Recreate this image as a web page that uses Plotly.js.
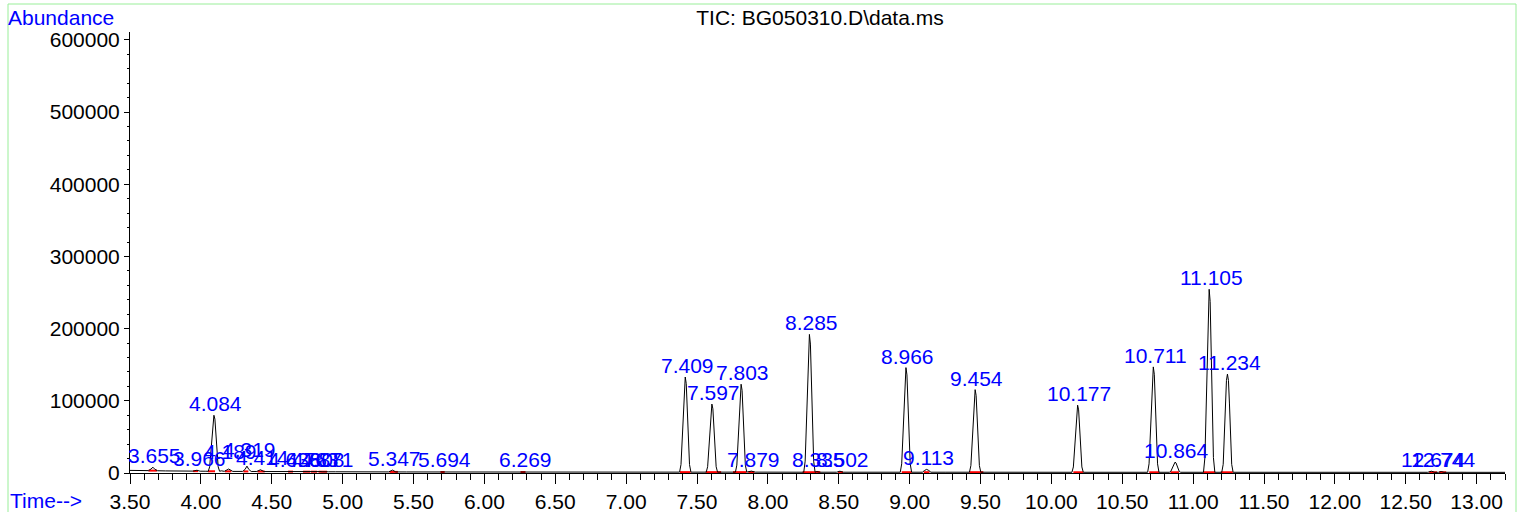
<!DOCTYPE html>
<html>
<head>
<meta charset="utf-8">
<script src="https://cdn.plot.ly/plotly-3.0.1.min.js"></script>
<style>html,body{margin:0;padding:0;background:#fff;}#chart{width:1528px;height:512px;}</style>
</head>
<body>
<div id="chart"></div>
<script>
// ---- chromatogram signal (time in minutes, abundance counts) ----
const traceTime = [
  3.50, 3.56, 3.60, 3.630, 3.648, 3.662, 3.676, 3.695, 3.75, 3.82, 3.90,
  3.945, 3.972, 3.995, 4.03,
  4.052, 4.062, 4.070, 4.078, 4.085, 4.092, 4.099, 4.106, 4.114, 4.122, 4.132,
  4.145, 4.165, 4.196, 4.225, 4.26,
  4.295, 4.312, 4.325, 4.338, 4.355,
  4.395, 4.420, 4.445, 4.52, 4.58,
  4.615, 4.640, 4.665, 4.71,
  4.745, 4.768, 4.790, 4.82, 4.840, 4.855, 4.878, 4.900, 4.95,
  5.05, 5.15, 5.25, 5.325, 5.352, 5.375, 5.45, 5.55, 5.65,
  5.680, 5.700, 5.720, 5.80, 5.95, 6.10,
  6.250, 6.275, 6.300, 6.40, 6.60, 6.80, 7.00, 7.20, 7.30,
  7.377, 7.387, 7.395, 7.403, 7.410, 7.417, 7.424, 7.431, 7.439, 7.447, 7.457,
  7.50,
  7.565, 7.575, 7.583, 7.591, 7.598, 7.605, 7.612, 7.619, 7.627, 7.635, 7.645,
  7.70,
  7.771, 7.781, 7.789, 7.797, 7.804, 7.811, 7.818, 7.825, 7.833, 7.841, 7.851,
  7.884, 7.910, 8.00, 8.10, 8.20,
  8.253, 8.263, 8.271, 8.279, 8.286, 8.293, 8.300, 8.307, 8.315, 8.323, 8.333,
  8.345, 8.365, 8.42, 8.485, 8.508, 8.530, 8.60, 8.70, 8.80, 8.88,
  8.934, 8.944, 8.952, 8.960, 8.967, 8.974, 8.981, 8.988, 8.996, 9.004, 9.014,
  9.05, 9.090, 9.105, 9.120, 9.135, 9.150, 9.25, 9.35,
  9.422, 9.432, 9.440, 9.448, 9.455, 9.462, 9.469, 9.476, 9.484, 9.492, 9.502,
  9.60, 9.80, 10.00, 10.10,
  10.145, 10.155, 10.163, 10.171, 10.178, 10.185, 10.192, 10.199, 10.207, 10.215, 10.225,
  10.35, 10.50, 10.62,
  10.679, 10.689, 10.697, 10.705, 10.712, 10.719, 10.726, 10.733, 10.741, 10.749, 10.759,
  10.80,
  10.832, 10.842, 10.850, 10.858, 10.865, 10.872, 10.879, 10.886, 10.894, 10.902, 10.912,
  10.98, 11.04,
  11.073, 11.083, 11.091, 11.099, 11.106, 11.113, 11.120, 11.127, 11.135, 11.143, 11.153,
  11.175,
  11.202, 11.212, 11.220, 11.228, 11.235, 11.242, 11.249, 11.256, 11.264, 11.272, 11.282,
  11.40, 11.60, 11.80, 12.00, 12.20, 12.40, 12.55,
  12.655, 12.680, 12.705, 12.730, 12.750, 12.770,
  12.90, 13.05, 13.20
];
const traceAbundance = [
  3600, 3400, 3350, 3300, 5500, 8000, 5000, 3100, 2900, 2800, 2700,
  2600, 3800, 2500, 2450,
  2400, 8600, 29600, 56700, 74600, 80000, 74600, 56700, 29600, 8600, 2400,
  3000, 2300, 5500, 2200, 2200,
  2200, 5000, 9500, 5000, 2100,
  2100, 4500, 2000, 2000, 1950,
  1900, 2800, 1900, 1850,
  1800, 2200, 1800, 1800, 2000, 1750, 2100, 1700, 1700,
  1600, 1600, 1500, 1500, 4000, 1500, 1450, 1400, 1400,
  1400, 2000, 1400, 1350, 1300, 1300,
  1300, 2000, 1300, 1300, 1250, 1250, 1200, 1200, 1200,
  1200, 11700, 47300, 93500, 123800, 133000, 123800, 93500, 47300, 11700, 1200,
  1200,
  1200, 8700, 34200, 67200, 88900, 95500, 88900, 67200, 34200, 8700, 1200,
  1200,
  1200, 10900, 43800, 86500, 114500, 123000, 114500, 86500, 43800, 10900, 1200,
  2600, 1200, 1150, 1100, 1100,
  1100, 16400, 67900, 134700, 178600, 192000, 178600, 134700, 67900, 16400, 1100,
  2000, 1100, 1100, 1100, 2500, 1100, 1100, 1100, 1100, 1100,
  1100, 12700, 51800, 102500, 135900, 146000, 135900, 102500, 51800, 12700, 1100,
  1100, 1100, 3500, 5000, 3500, 1100, 1100, 1100,
  1100, 10300, 41100, 81200, 107500, 115500, 107500, 81200, 41100, 10300, 1100,
  1050, 1050, 1000, 1000,
  1000, 8400, 33600, 66100, 87500, 94000, 87500, 66100, 33600, 8400, 1000,
  1000, 1000, 1000,
  1000, 12700, 52100, 103200, 136800, 147000, 136800, 103200, 52100, 12700, 1000,
  1000,
  1000, 2100, 5900, 10800, 14000, 15000, 14000, 10800, 5900, 2100, 1000,
  1000, 1000,
  1000, 21400, 90100, 179200, 237700, 254500, 237700, 179200, 90100, 21400, 1000,
  1000,
  1000, 12000, 49000, 96900, 128400, 137000, 128400, 96900, 49000, 12000, 1000,
  1000, 1000, 1000, 1000, 950, 950, 950,
  950, 2500, 950, 950, 2000, 950,
  900, 900, 900
];

// ---- integrated peaks: retention-time label, apex abundance, integration start/end ----
const peakLabels = ["3.655","3.966","4.084","4.189","4.319","4.414","4.636","4.763","4.808","4.871",
  "5.347","5.694","6.269","7.409","7.597","7.803","7.879","8.285","8.335","8.502",
  "8.966","9.113","9.454","10.177","10.711","10.864","11.105","11.234","12.674","12.744"];
const peakTimes = [3.655,3.966,4.084,4.189,4.319,4.414,4.636,4.763,4.808,4.871,
  5.347,5.694,6.269,7.409,7.597,7.803,7.879,8.285,8.335,8.502,
  8.966,9.113,9.454,10.177,10.711,10.864,11.105,11.234,12.674,12.744];
const peakApex = [8000,4200,80000,14000,16000,5500,3000,2400,2400,2400,
  4600,2400,2500,133000,95500,123000,2600,192000,2200,2500,
  146000,5000,115500,94000,147000,15000,254500,137000,2600,2600];
const integStart = [3.630,3.945,4.050,4.170,4.300,4.400,4.615,4.720,4.775,4.830,
  5.330,5.690,6.255,7.380,7.562,7.754,7.862,8.245,8.340,8.495,
  8.944,9.100,9.420,10.155,10.690,10.840,11.070,11.195,12.665,12.735];
const integEnd = [3.690,3.980,4.100,4.215,4.335,4.450,4.650,4.770,4.820,4.890,
  5.390,5.720,6.290,7.455,7.670,7.850,7.905,8.370,8.365,8.530,
  9.015,9.140,9.520,10.225,10.760,10.900,11.155,11.280,12.720,12.785];
const integLevel = [3300,2600,2400,2300,2200,2100,1900,1800,1800,1750,
  1500,1400,1300,1200,1200,1200,1200,1100,1100,1100,
  1100,1100,1100,1000,1000,1000,1000,1000,950,950];

// ---- axes ----
const xRange = [3.5, 13.2];
const yRange = [0, 611000];
const titleText = "TIC: BG050310.D\\data.ms";

// build red integration baseline segments
const redX = [], redY = [];
for (let i = 0; i < integStart.length; i++) {
  redX.push(integStart[i], integEnd[i], null);
  redY.push(integLevel[i], integLevel[i], null);
}

const FONT = "Liberation Sans, Arial, Helvetica, sans-serif";
const BLUE = "#0000ff";
const FS = 21;

const traces = [
  {x: redX, y: redY, type: "scatter", mode: "lines",
   line: {color: "#ff0000", width: 2}, hoverinfo: "skip"},
  {x: traceTime, y: traceAbundance, type: "scatter", mode: "lines",
   line: {color: "#000000", width: 1}, hoverinfo: "skip"}
];

const annotations = peakLabels.map((t, i) => ({
  x: peakTimes[i], y: peakApex[i], xref: "x", yref: "y",
  text: t, showarrow: false, xanchor: "center", yanchor: "bottom",
  xshift: 3, yshift: -2,
  font: {family: FONT, size: FS, color: BLUE}
}));

// plot area in pixels: left 130, right 1505, top 32, bottom 473
const L = 130, R = 1505, T = 32, B = 473;
const px = v => (v - L) / (R - L);
const py = v => (B - v) / (B - T);

annotations.push({
  xref: "paper", yref: "paper", x: px(6), y: py(18), xanchor: "left", yanchor: "middle",
  text: "Abundance", showarrow: false, font: {family: FONT, size: FS, color: BLUE}
});
annotations.push({
  xref: "paper", yref: "paper", x: px(8), y: py(500), xanchor: "left", yanchor: "middle",
  text: "Time-->", showarrow: false, font: {family: FONT, size: FS, color: BLUE}
});

const layout = {
  width: 1528, height: 512,
  margin: {l: L, r: 1528 - R, t: T, b: 512 - B, pad: 0},
  paper_bgcolor: "#ffffff", plot_bgcolor: "#ffffff",
  showlegend: false,
  font: {family: FONT, size: FS, color: "#000000"},
  title: {text: titleText, font: {family: FONT, size: FS, color: "#000000"},
          x: px(820), xref: "paper", xanchor: "center",
          y: 1 - 18 / 512, yref: "container", yanchor: "middle"},
  xaxis: {
    range: xRange, tick0: 3.5, dtick: 0.5, tickformat: ".2f",
    ticks: "outside", ticklen: 10, tickwidth: 1, tickcolor: "#000",
    showline: true, linecolor: "#000", linewidth: 1,
    showgrid: false, zeroline: false,
    tickfont: {family: FONT, size: FS, color: "#000"},
    minor: {dtick: 0.1, ticks: "outside", ticklen: 6, tickcolor: "#000", showgrid: false}
  },
  yaxis: {
    range: yRange, tick0: 0, dtick: 100000, tickformat: "d",
    ticks: "outside", ticklen: 5, tickwidth: 1, tickcolor: "#000",
    showline: true, linecolor: "#000", linewidth: 1,
    showgrid: false, zeroline: false,
    tickfont: {family: FONT, size: FS, color: "#000"},
    minor: {dtick: 20000, ticks: "outside", ticklen: 2, tickcolor: "#000", showgrid: false}
  },
  annotations: annotations,
  shapes: [{
    type: "rect", xref: "paper", yref: "paper",
    x0: px(8), x1: px(1516), y0: py(515), y1: py(4),
    line: {color: "#99ee99", width: 1}, fillcolor: "rgba(0,0,0,0)", layer: "below"
  }]
};

Plotly.newPlot("chart", traces, layout, {staticPlot: true, displayModeBar: false});
</script>
</body>
</html>
